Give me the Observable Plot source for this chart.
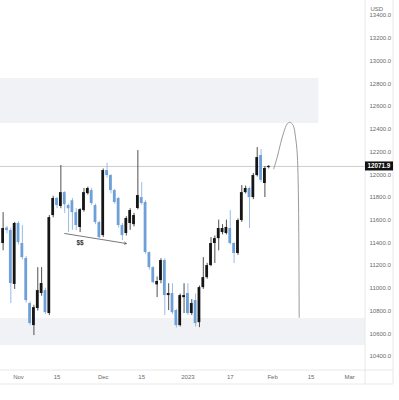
<!DOCTYPE html>
<html><head><meta charset="utf-8">
<script src="https://cdn.jsdelivr.net/npm/d3@7"></script>
<script src="https://cdn.jsdelivr.net/npm/@observablehq/plot@0.6"></script>
<style>body{margin:0;background:#fff;}</style>
</head><body><div id="chart"></div>
<script>
// ---- data (daily candles, weekdays from firstDate) ----
const firstDate = "2022-10-26";
const open  = [11394,11530,11508,11034,11570,11394,11262,10866,10672,10822,10954,10980,10778,11640,11790,11720,11842,11728,11770,11666,11535,11684,11833,11860,11728,11578,11464,12036,11992,11860,11790,11552,11482,11570,11560,11702,11798,11755,11314,11182,11030,11068,11244,10936,10954,10804,10672,10918,10954,10778,10892,10698,11006,11094,11200,11394,11437,11490,11482,11526,11394,11306,11596,11842,11878,11798,11992,12168,11922,12062];
const high  = [11666,11545,11530,11580,11585,11552,11280,10880,10850,11182,11182,11000,11640,11810,11800,12080,11850,11740,11790,11700,11700,11878,11890,11880,11740,11590,12050,12100,12000,11870,11800,11570,11630,11700,11660,12212,11930,11770,11320,11190,11100,11260,11260,11040,11040,10815,10950,11040,11040,10900,10950,11020,11270,11220,11446,11460,11600,11560,11600,11684,11400,11610,11904,11900,11890,12010,12238,12220,12071,12080];
const low   = [11330,11480,10866,10990,11380,11250,10870,10672,10584,10800,10930,10770,10760,11620,11700,11700,11658,11490,11510,11508,11490,11670,11820,11730,11560,11437,11446,11970,11830,11740,11530,11420,11460,11510,11540,11690,11730,11300,11160,11040,10918,11040,10760,10804,10770,10650,10660,10778,10760,10760,10660,10654,10990,11080,11190,11218,11330,11470,11470,11380,11218,11290,11580,11830,11526,11780,11980,11930,11798,12050];
const close = [11526,11508,11042,11570,11402,11270,10892,10690,10830,10980,11042,10786,11622,11790,11728,11842,11736,11700,11666,11552,11692,11842,11878,11746,11578,11446,12036,11992,11860,11755,11552,11464,11614,11684,11640,11816,11746,11314,11182,11050,11060,11244,10936,10954,10786,10672,10936,10936,10778,10866,10690,11006,11094,11200,11394,11437,11526,11526,11535,11394,11306,11596,11842,11878,11798,11992,12150,11950,12054,12071.9];
const lastPrice = 12071.9;

const yTickValues = [10400,10600,10800,11000,11200,11400,11600,11800,12000,12200,12400,12600,12800,13000,13200,13400];
const xTickDates  = ["2022-11-01","2022-11-15","2022-12-01","2022-12-15","2023-01-02","2023-01-17","2023-02-01","2023-02-15","2023-03-01"];
const xTickLabels = ["Nov","15","Dec","15","2023","17","Feb","15","Mar"];

const zoneFrom = ["2022-10-24","2022-10-24"];
const zoneTo   = ["2023-02-17","2023-03-10"];
const zoneLow  = [12450,10497];
const zoneHigh = [12846,10734];

const arrowFrom = {date:"2022-11-17", price:11482};
const arrowTo   = {date:"2022-12-09", price:11394};
const noteText  = "$$";
const noteAt    = {date:"2022-11-23", price:11400};

// projected path: bar offsets after the last candle and prices
const projOffset = [1.3,2.2,3.05,3.9,4.8,5.5,6.35,6.95,7.4,7.65,7.8,7.9];
const projPrice  = [12051,12153,12271,12373,12447,12461,12432,12329,12183,11919,11482,10745];

// ---- trading-day calendar (weekdays) ----
const parse = d3.utcParse("%Y-%m-%d");
const cal = d3.utcDay.range(parse("2022-10-17"), parse("2023-03-31")).filter(d => d.getUTCDay() % 6 !== 0);
const calIndex = new Map(cal.map((d,k) => [+d, k]));
const base = calIndex.get(+parse(firstDate));
const idx = s => calIndex.get(+parse(s)) - base;

const candles = open.map((o,k) => ({j:k, o, h:high[k], l:low[k], c:close[k], up: close[k] >= o}));
const zones = zoneFrom.map((f,k) => ({x1: idx(f), x2: idx(zoneTo[k]), y1: zoneLow[k], y2: zoneHigh[k]}));
const lastJ = candles.length - 1;
const proj = projOffset.map((o,k) => ({x: lastJ + o, y: projPrice[k]}));
const xTicks = xTickDates.map(idx);
const xLab = new Map(xTicks.map((t,k) => [t, xTickLabels[k]]));

const BLACK = "#151515", BLUE = "#6d9fd9";

const chart = Plot.plot({
  width: 399, height: 400,
  marginLeft: 0, marginRight: 34, marginTop: 0, marginBottom: 30,
  style: {fontFamily: "'Liberation Sans', Arial, sans-serif", fontSize: "6px", background: "#fff"},
  x: {domain: [-0.68, 94.13], axis: null},
  y: {domain: [10276.8, 13532], axis: null},
  color: {type: "identity"},
  marks: [
    Plot.rect(zones, {x1:"x1", x2:"x2", y1:"y1", y2:"y2", fill:"#f1f2f5", clip:true}),
    Plot.ruleY([lastPrice], {stroke:"#c2c2c2", strokeWidth:0.8}),
    Plot.ruleX(candles, {x:"j", y1:"l", y2:"h", stroke: d => d.up ? "#3c3c3c" : "#8db3e2", strokeWidth:0.9}),
    Plot.rect(candles, {x1: d => d.j - 0.36, x2: d => d.j + 0.36, y1:"o", y2:"c", fill: d => d.up ? BLACK : BLUE}),
    Plot.arrow([0], {x1: () => idx(arrowFrom.date), y1: () => arrowFrom.price, x2: () => idx(arrowTo.date), y2: () => arrowTo.price, stroke:"#555", strokeWidth:0.8, headLength:4}),
    Plot.text([noteText], {x: () => idx(noteAt.date), y: () => noteAt.price, text: d => d, fontSize:6.5, fontWeight:"bold", fill:"#333"}),
    Plot.line(proj, {x:"x", y:"y", curve:"catmull-rom", stroke:"#9a9a9a", strokeWidth:1}),
    Plot.axisY(yTickValues, {anchor:"right", tickSize:0, tickPadding:4, tickFormat: d => d.toFixed(1), fontSize:6, fill:"#6a6a6a"}),
    Plot.axisX(xTicks, {anchor:"bottom", tickSize:0, tickPadding:4.5, tickFormat: d => xLab.get(d), fontSize:6, fill:"#6a6a6a"}),
    Plot.text(["USD"], {frameAnchor:"top-right", dx:5, dy:6, textAnchor:"start", text: d => d, fontSize:6, fill:"#6a6a6a"})
  ]
});
document.getElementById("chart").appendChild(chart);

// separators and last-price label
const svg = d3.select(chart);
const ys = chart.scale("y");
const g = svg.append("g").attr("stroke", "#e2e2e2").attr("stroke-width", 0.8);
g.append("line").attr("x1", 365).attr("x2", 365).attr("y1", 0).attr("y2", 384);
g.append("line").attr("x1", 393).attr("x2", 393).attr("y1", 0).attr("y2", 384);
g.append("line").attr("x1", 0).attr("x2", 393).attr("y1", 370).attr("y2", 370);
g.append("line").attr("x1", 0).attr("x2", 393).attr("y1", 384).attr("y2", 384);
const py = ys.apply(lastPrice);
svg.append("rect").attr("x", 365).attr("y", py - 4.5).attr("width", 28).attr("height", 9).attr("fill", "#111");
svg.append("text").attr("x", 379).attr("y", py + 2.2).attr("text-anchor", "middle")
  .attr("fill", "#fff").attr("font-size", 6.3).attr("font-weight", "bold")
  .attr("font-family", "'Liberation Sans', Arial, sans-serif").text(lastPrice.toFixed(1));
</script>
</body></html>
